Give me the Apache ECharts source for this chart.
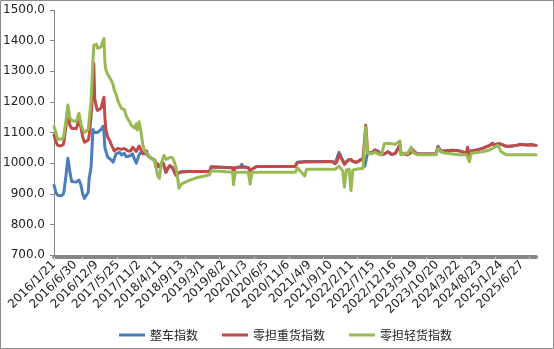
<!DOCTYPE html>
<html><head><meta charset="utf-8">
<script src="https://cdn.jsdelivr.net/npm/echarts@6/dist/echarts.min.js"></script>
<style>html,body{margin:0;padding:0;background:#fff}#c{width:554px;height:349px}</style>
</head><body><div id="c"></div>
<script>
const seriesNames = ['整车指数', '零担重货指数', '零担轻货指数'];
const tickLabels = ['2016/1/21','2016/6/30','2016/12/9','2017/5/25','2017/11/2','2018/4/11','2018/9/13','2019/3/1','2019/8/2','2020/1/3','2020/6/5','2020/11/6','2021/4/9','2021/9/10','2022/2/11','2022/7/15','2022/12/16','2023/5/19','2023/10/20','2024/3/22','2024/8/23','2025/1/24','2025/6/27'];
const labelStep = 23;
const weekCount = 522;
// week index (position in the weekly category sequence) of each sampled value
const weekIdx = [0,2,4,7,10,11,13,15,17,19,20,24,27,29,31,33,35,37,38,40,41,42,43,44,46,47,49,51,53,54,55,56,58,60,62,64,65,67,69,71,73,74,76,78,80,82,83,85,87,89,90,92,94,96,98,100,101,103,105,109,110,112,114,116,118,119,121,123,125,127,128,130,132,134,135,138,139,145,150,155,163,168,170,172,193,194,196,202,203,204,210,212,214,219,261,263,265,271,273,301,304,306,308,310,312,314,316,318,319,321,323,327,330,334,336,337,339,343,347,350,354,357,361,365,369,374,375,379,382,386,388,390,393,413,415,418,422,431,438,446,447,449,451,457,463,471,474,476,480,482,483,485,489,493,500,504,511,516,521];
const truckIndex = [928,905,895,893,898,912,960,1016,975,940,935,938,945,930,900,885,888,905,950,985,1040,1110,1115,1100,1105,1100,1105,1110,1120,1100,1050,1040,1020,1020,1010,1003,1012,1030,1035,1035,1027,1025,1032,1021,1018,1024,1028,1030,1012,1000,995,1028,1035,1030,1030,1038,1027,1020,1015,1008,990,995,988,985,1000,995,970,983,990,990,985,972,960,966,968,971,973,973,973,973,973,973,988,986,985,975,985,988,996,988,986,973,980,989,990,1003,1005,1005,1005,1005,1000,1006,1035,1034,1010,998,994,1010,1016,1012,1005,1003,1008,1015,990,985,1035,1032,1043,1040,1028,1030,1037,1028,1032,1058,1033,1030,1027,1035,1043,1035,1030,1030,1055,1040,1040,1042,1040,1032,1050,1022,1040,1043,1048,1058,1065,1058,1063,1066,1062,1058,1055,1055,1058,1062,1059,1061,1058];
const ltlHeavyIndex = [1092,1070,1058,1056,1060,1075,1120,1180,1125,1114,1112,1112,1140,1119,1085,1068,1065,1075,1090,1150,1190,1260,1326,1210,1180,1172,1178,1180,1205,1215,1150,1110,1085,1075,1060,1055,1040,1035,1048,1053,1045,1042,1048,1043,1040,1045,1040,1052,1045,1038,1042,1056,1062,1030,1032,1040,1027,1020,1016,1010,990,998,988,987,1000,997,970,983,992,993,986,972,960,967,968,972,973,973,973,973,973,972,987,985,985,972,985,987,993,987,986,972,980,989,990,1002,1004,1004,1005,1005,998,1005,1030,1032,1008,996,994,1010,1016,1012,1005,1003,1008,1014,1010,1124,1037,1032,1043,1038,1027,1030,1037,1028,1032,1059,1032,1030,1027,1035,1043,1035,1030,1030,1052,1038,1040,1042,1040,1032,1052,1022,1040,1043,1048,1058,1065,1057,1064,1066,1062,1058,1055,1055,1058,1061,1059,1060,1058];
const ltlLightIndex = [1120,1100,1078,1078,1082,1097,1140,1190,1148,1140,1146,1135,1163,1130,1110,1100,1105,1110,1140,1200,1262,1330,1385,1380,1388,1375,1370,1380,1400,1407,1330,1305,1290,1280,1270,1255,1240,1225,1205,1190,1178,1180,1175,1155,1143,1135,1125,1120,1114,1128,1108,1135,1103,1060,1040,1043,1030,1021,1018,1008,990,960,950,1000,1018,1025,1012,1015,1018,1020,1018,1005,985,945,918,932,938,942,948,953,958,962,975,971,970,930,970,970,972,970,970,932,970,970,970,985,983,958,980,980,980,985,990,985,975,922,978,982,980,910,978,980,982,983,985,1118,1032,1030,1036,1030,1027,1063,1065,1063,1062,1072,1027,1033,1030,1052,1035,1030,1027,1027,1048,1037,1033,1030,1027,1027,1027,1005,1032,1035,1037,1043,1048,1054,1058,1052,1038,1035,1027,1027,1027,1027,1027,1027,1027];
const seriesValues = [truckIndex, ltlHeavyIndex, ltlLightIndex];
const colors = ['#4A7EBB', '#BE4B48', '#98B954'];

const minorTicks = [0];
for (let k = 0; k < 14; k++) minorTicks.push(Math.round(30.3 + 37.2 * k));
minorTicks.push(weekCount - 1);

const chart = echarts.init(document.getElementById('c'), null, {renderer: 'canvas'});
chart.setOption({
  animation: false,
  backgroundColor: '#fff',
  graphic: [
    {type: 'rect', shape: {x: 0.5, y: 0.5, width: 553, height: 348}, style: {fill: 'none', stroke: '#8a8a8a', lineWidth: 1}, silent: true}
  ],
  grid: {left: 54, right: 18, top: 10, bottom: 94},
  legend: {
    left: 114, top: 324, itemWidth: 26, itemHeight: 3, itemGap: 24,
    textStyle: {fontFamily: '"Noto Sans CJK SC", sans-serif', fontSize: 12, color: '#222'},
    data: seriesNames.map((n) => ({name: n, icon: 'rect'}))
  },
  xAxis: {
    type: 'value', min: 0, max: weekCount - 1, interval: labelStep, offset: 2,
    axisLine: {lineStyle: {color: '#868686', width: 4}},
    axisTick: {show: true, customValues: minorTicks, length: 4, lineStyle: {color: '#d4d4d4', width: 1}},
    splitLine: {show: false},
    axisLabel: {
      rotate: 45, margin: 6, fontSize: 12, fontFamily: '"DejaVu Sans", sans-serif', color: '#222',
      align: 'right', verticalAlign: 'middle',
      showMaxLabel: false, hideOverlap: false,
      formatter: (v) => (v % labelStep === 0 ? (tickLabels[v / labelStep] || '') : '')
    }
  },
  yAxis: {
    type: 'value', min: 700, max: 1500, interval: 100,
    axisLine: {show: true, lineStyle: {color: '#868686', width: 1}},
    axisTick: {show: true, inside: false, length: 4, lineStyle: {color: '#868686'}},
    splitLine: {show: false},
    axisLabel: {margin: 9, fontSize: 12, fontFamily: '"DejaVu Sans", sans-serif', color: '#222', formatter: (v) => v.toFixed(1)}
  },
  series: seriesNames.map((n, s) => ({
    name: n, type: 'line', showSymbol: false, symbol: 'none', smooth: false,
    color: colors[s],
    lineStyle: {width: 3, color: colors[s], join: 'round', cap: 'round'},
    data: weekIdx.map((w, k) => [w, seriesValues[s][k]])
  }))
});
</script></body></html>
